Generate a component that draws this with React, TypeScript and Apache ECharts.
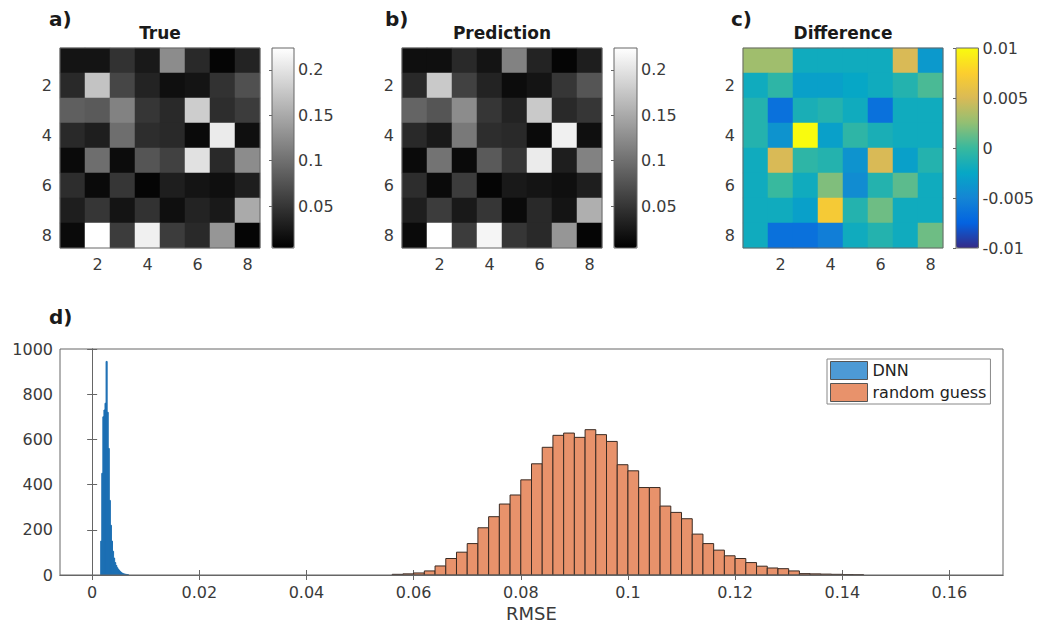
import React, { useEffect, useRef } from 'react';
import * as echarts from 'echarts';

// ---------- data ----------
const cellLabels = ['1', '2', '3', '4', '5', '6', '7', '8'];

const trueMatrix = [
  [0.021, 0.021, 0.047, 0.026, 0.125, 0.039, 0.008, 0.034],
  [0.039, 0.172, 0.064, 0.034, 0.017, 0.021, 0.047, 0.073],
  [0.086, 0.082, 0.116, 0.051, 0.039, 0.181, 0.043, 0.056],
  [0.039, 0.030, 0.099, 0.043, 0.039, 0.013, 0.207, 0.017],
  [0.013, 0.099, 0.014, 0.077, 0.060, 0.198, 0.039, 0.125],
  [0.043, 0.013, 0.051, 0.008, 0.030, 0.021, 0.017, 0.030],
  [0.030, 0.051, 0.021, 0.047, 0.017, 0.034, 0.026, 0.151],
  [0.013, 0.224, 0.056, 0.211, 0.056, 0.039, 0.133, 0.008],
];

const predMatrix = [
  [0.017, 0.017, 0.039, 0.021, 0.116, 0.034, 0.008, 0.030],
  [0.039, 0.177, 0.060, 0.034, 0.014, 0.021, 0.051, 0.077],
  [0.090, 0.077, 0.125, 0.051, 0.034, 0.177, 0.039, 0.051],
  [0.039, 0.026, 0.108, 0.043, 0.039, 0.013, 0.211, 0.017],
  [0.013, 0.103, 0.013, 0.082, 0.051, 0.207, 0.030, 0.116],
  [0.043, 0.013, 0.056, 0.008, 0.026, 0.021, 0.017, 0.030],
  [0.030, 0.056, 0.026, 0.051, 0.013, 0.039, 0.021, 0.155],
  [0.013, 0.224, 0.056, 0.215, 0.051, 0.039, 0.133, 0.008],
];

const diffMatrix = [
  [0.003, 0.003, -0.002, -0.002, -0.002, -0.002, 0.005, -0.0035],
  [-0.002, -0.0005, -0.003, -0.003, -0.0025, -0.002, -0.001, 0.0005],
  [-0.001, -0.0065, -0.0015, -0.001, -0.002, -0.0065, -0.002, -0.002],
  [-0.001, -0.004, 0.01, -0.003, -0.0005, -0.0015, -0.002, -0.002],
  [-0.002, 0.005, -0.0005, -0.001, -0.004, 0.005, -0.003, -0.001],
  [-0.002, 0.0, -0.002, 0.002, -0.0045, -0.001, 0.001, -0.002],
  [-0.002, -0.002, -0.003, 0.007, -0.001, 0.0015, -0.002, -0.002],
  [-0.002, -0.0065, -0.0065, -0.0055, -0.002, -0.001, -0.002, 0.0015],
];

const grayRange = [0.004, 0.224];
const diffRange = [-0.01, 0.01];
const grayTicks = [0.05, 0.1, 0.15, 0.2];
const diffTicks = [-0.01, -0.005, 0, 0.005, 0.01];
const rmseTicks = [0, 0.02, 0.04, 0.06, 0.08, 0.1, 0.12, 0.14, 0.16];
const rmseRange = [-0.006, 0.17];
const countRange = [0, 1000];

const dnnEdges = [
  0.0016, 0.0018, 0.002, 0.0022, 0.0024, 0.0026, 0.0028, 0.003, 0.0032, 0.0034,
  0.0036, 0.0038, 0.004, 0.0042, 0.0044, 0.0046, 0.0048, 0.005, 0.0052, 0.0054,
  0.0056, 0.0058, 0.006, 0.0062, 0.0064, 0.0066, 0.0068,
];
const dnnCounts = [
  150, 450, 700, 730, 760, 945, 720, 560, 330, 220,
  150, 105, 75, 55, 42, 32, 25, 19, 14, 10,
  7, 5, 4, 3, 2, 1,
];

const rgEdges = [
  0.056, 0.058, 0.06, 0.062, 0.064, 0.066, 0.068, 0.07, 0.072, 0.074,
  0.076, 0.078, 0.08, 0.082, 0.084, 0.086, 0.088, 0.09, 0.092, 0.094,
  0.096, 0.098, 0.1, 0.102, 0.104, 0.106, 0.108, 0.11, 0.112, 0.114,
  0.116, 0.118, 0.12, 0.122, 0.124, 0.126, 0.128, 0.13, 0.132, 0.134,
  0.136, 0.138, 0.14, 0.142, 0.144,
];
const rgCounts = [
  3, 5, 9, 18, 40, 73, 101, 139, 209, 258,
  314, 354, 421, 492, 565, 618, 628, 609, 643, 621,
  591, 488, 461, 387, 387, 305, 277, 249, 181, 139,
  110, 85, 73, 55, 39, 31, 28, 18, 6, 5,
  4, 3, 2, 1,
];

const parula = ['#352a87', '#0363e1', '#1485d4', '#06a7c6', '#38b99e', '#92bf73', '#d9ba56', '#fcce2e', '#f9fb0e'];

// ---------- helpers ----------
const TXT = '#3a3a3a';
const LINE = '#666666';
const FONT = 'DejaVu Sans';

function toCells(m: number[][]) {
  const out: number[][] = [];
  m.forEach((row, r) => row.forEach((v, c) => out.push([c, r, v])));
  return out;
}

function histData(edges: number[], counts: number[]) {
  return counts.map((c, i) => [edges[i], edges[i + 1], c]);
}

const histRender = (fill: string, stroke: string, lw: number) => (_p: any, api: any) => {
  const a = api.coord([api.value(0), api.value(2)]);
  const b = api.coord([api.value(1), 0]);
  return {
    type: 'rect',
    shape: { x: a[0], y: a[1], width: b[0] - a[0], height: b[1] - a[1] },
    style: { fill, stroke, lineWidth: lw },
  };
};

const fmt = (v: number) => String(+Number(v).toFixed(4));
const even = (i: number) => i % 2 === 1;

const catX = (gridIndex: number) => ({
  type: 'category', gridIndex, data: cellLabels, position: 'bottom',
  axisLine: { show: false },
  axisTick: { show: true, inside: true, length: 3, alignWithLabel: true, interval: even, lineStyle: { color: LINE } },
  axisLabel: { interval: even, fontSize: 16, color: TXT, margin: 8, fontFamily: FONT },
  splitLine: { show: false },
});
const catY = (gridIndex: number) => ({
  type: 'category', gridIndex, data: cellLabels, position: 'left', inverse: true,
  axisLine: { show: false },
  axisTick: { show: true, inside: true, length: 3, alignWithLabel: true, interval: even, lineStyle: { color: LINE } },
  axisLabel: { interval: even, fontSize: 16, color: TXT, margin: 8, fontFamily: FONT },
  splitLine: { show: false },
});
const cbX = (gridIndex: number) => ({ type: 'value', gridIndex, show: false, min: 0, max: 1 });
const cbY = (gridIndex: number, range: number[], ticks: number[]) => ({
  type: 'value', gridIndex, position: 'right', min: range[0], max: range[1],
  axisLine: { show: false }, splitLine: { show: false },
  axisTick: { show: true, inside: true, length: 3, customValues: ticks, lineStyle: { color: LINE } },
  axisLabel: { customValues: ticks, fontSize: 16, color: TXT, margin: 4, formatter: fmt, fontFamily: FONT },
});

const boxGrid = (left: number, top: number, width: number, height: number) => ({
  left, top, width, height, show: true, borderColor: LINE, borderWidth: 1, backgroundColor: 'transparent', z: 5,
});

export default function App() {
  const ref = useRef<HTMLDivElement>(null);
  useEffect(() => {
    if (!ref.current) return;
    const chart = echarts.init(ref.current, undefined, { renderer: 'svg' });
    const titleStyle = { fontSize: 17, fontWeight: 'bold', color: '#1a1a1a', fontFamily: FONT };
    const panelStyle = { fontSize: 20, fontWeight: 'bold', color: '#1a1a1a', fontFamily: FONT };
    chart.setOption({
      animation: false,
      backgroundColor: '#ffffff',
      textStyle: { fontFamily: FONT },
      title: [
        { text: 'a)', left: 49, top: 9, padding: 0, textStyle: panelStyle },
        { text: 'b)', left: 385, top: 9, padding: 0, textStyle: panelStyle },
        { text: 'c)', left: 731, top: 9, padding: 0, textStyle: panelStyle },
        { text: 'd)', left: 49, top: 307, padding: 0, textStyle: panelStyle },
        { text: 'True', left: 160, top: 24, padding: 0, textAlign: 'center', textStyle: titleStyle },
        { text: 'Prediction', left: 502, top: 24, padding: 0, textAlign: 'center', textStyle: titleStyle },
        { text: 'Difference', left: 843, top: 24, padding: 0, textAlign: 'center', textStyle: titleStyle },
      ],
      grid: [
        boxGrid(60, 48, 200, 200),
        boxGrid(402, 48, 200, 200),
        boxGrid(743, 48, 200, 200),
        boxGrid(272, 48, 22, 200),
        boxGrid(614, 48, 23, 200),
        boxGrid(956, 48, 23, 200),
        boxGrid(60, 349, 943, 226),
      ],
      xAxis: [
        catX(0), catX(1), catX(2),
        cbX(3), cbX(4), cbX(5),
        {
          type: 'value', gridIndex: 6, min: rmseRange[0], max: rmseRange[1], position: 'bottom',
          axisLine: { show: true, lineStyle: { color: LINE } },
          axisTick: { show: true, inside: true, length: 5, customValues: rmseTicks, lineStyle: { color: LINE } },
          axisLabel: { customValues: rmseTicks, fontSize: 16, color: TXT, margin: 9, formatter: fmt, fontFamily: FONT },
          splitLine: { show: false },
          name: 'RMSE', nameLocation: 'middle', nameGap: 29,
          nameTextStyle: { fontSize: 18, color: TXT, fontFamily: FONT },
        },
        {
          type: 'value', gridIndex: 6, min: rmseRange[0], max: rmseRange[1], position: 'top',
          axisLine: { show: true, lineStyle: { color: LINE } },
          axisTick: { show: true, inside: true, length: 5, customValues: rmseTicks, lineStyle: { color: LINE } },
          axisLabel: { show: false },
          splitLine: { show: false },
        },
      ],
      yAxis: [
        catY(0), catY(1), catY(2),
        cbY(3, grayRange, grayTicks), cbY(4, grayRange, grayTicks), cbY(5, diffRange, diffTicks),
        {
          type: 'value', gridIndex: 6, min: countRange[0], max: countRange[1], interval: 200, position: 'left',
          axisLine: { show: true, lineStyle: { color: LINE } },
          axisTick: { show: true, inside: true, length: 5, lineStyle: { color: LINE } },
          axisLabel: { fontSize: 16, color: TXT, margin: 7, fontFamily: FONT, formatter: (v: number) => String(v) },
          splitLine: { show: false },
        },
        {
          type: 'value', gridIndex: 6, min: countRange[0], max: countRange[1], interval: 200, position: 'right',
          axisLine: { show: true, lineStyle: { color: LINE } },
          axisTick: { show: true, inside: true, length: 5, lineStyle: { color: LINE } },
          axisLabel: { show: false },
          splitLine: { show: false },
        },
      ],
      visualMap: [
        {
          type: 'continuous', seriesIndex: 0, min: grayRange[0], max: grayRange[1], calculable: false,
          inRange: { color: ['#000000', '#ffffff'] }, left: 272, top: 48, itemWidth: 22, itemHeight: 200, padding: 0,
          hoverLink: false,
        },
        {
          type: 'continuous', seriesIndex: 1, min: grayRange[0], max: grayRange[1], calculable: false,
          inRange: { color: ['#000000', '#ffffff'] }, left: 614, top: 48, itemWidth: 23, itemHeight: 200, padding: 0,
          hoverLink: false,
        },
        {
          type: 'continuous', seriesIndex: 2, min: diffRange[0], max: diffRange[1], calculable: false,
          inRange: { color: parula }, left: 956, top: 48, itemWidth: 23, itemHeight: 200, padding: 0,
          hoverLink: false,
        },
      ],
      legend: {
        data: [
          { name: 'DNN', itemStyle: { color: '#4d9ad5', borderColor: '#555', borderWidth: 1 } },
          { name: 'random guess', itemStyle: { color: '#e8926b', borderColor: '#555', borderWidth: 1 } },
        ],
        orient: 'vertical', left: 827, top: 359, itemWidth: 37, itemHeight: 18, itemGap: 3,
        padding: [2, 4, 2, 3], borderColor: '#888', borderWidth: 1, icon: 'rect', selectedMode: false,
        textStyle: { fontSize: 16, color: '#222', fontFamily: FONT },
      },
      series: [
        { type: 'heatmap', xAxisIndex: 0, yAxisIndex: 0, data: toCells(trueMatrix), emphasis: { disabled: true } },
        { type: 'heatmap', xAxisIndex: 1, yAxisIndex: 1, data: toCells(predMatrix), emphasis: { disabled: true } },
        { type: 'heatmap', xAxisIndex: 2, yAxisIndex: 2, data: toCells(diffMatrix), emphasis: { disabled: true } },
        {
          name: 'DNN', type: 'custom', xAxisIndex: 6, yAxisIndex: 6, clip: true,
          itemStyle: { color: '#4d9ad5' },
          encode: { x: [0, 1], y: 2 },
          data: histData(dnnEdges, dnnCounts),
          renderItem: histRender('#1c6fb3', '#1c6fb3', 1),
        },
        {
          name: 'random guess', type: 'custom', xAxisIndex: 6, yAxisIndex: 6, clip: true,
          itemStyle: { color: '#e8926b' },
          encode: { x: [0, 1], y: 2 },
          data: histData(rgEdges, rgCounts),
          renderItem: histRender('#e8926b', '#3a2a22', 1),
        },
      ],
    });
    return () => chart.dispose();
  }, []);
  return (
    <div
      ref={ref}
      style={{ position: 'fixed', left: 0, top: 0, width: 1037, height: 627, background: '#fff' }}
    />
  );
}
